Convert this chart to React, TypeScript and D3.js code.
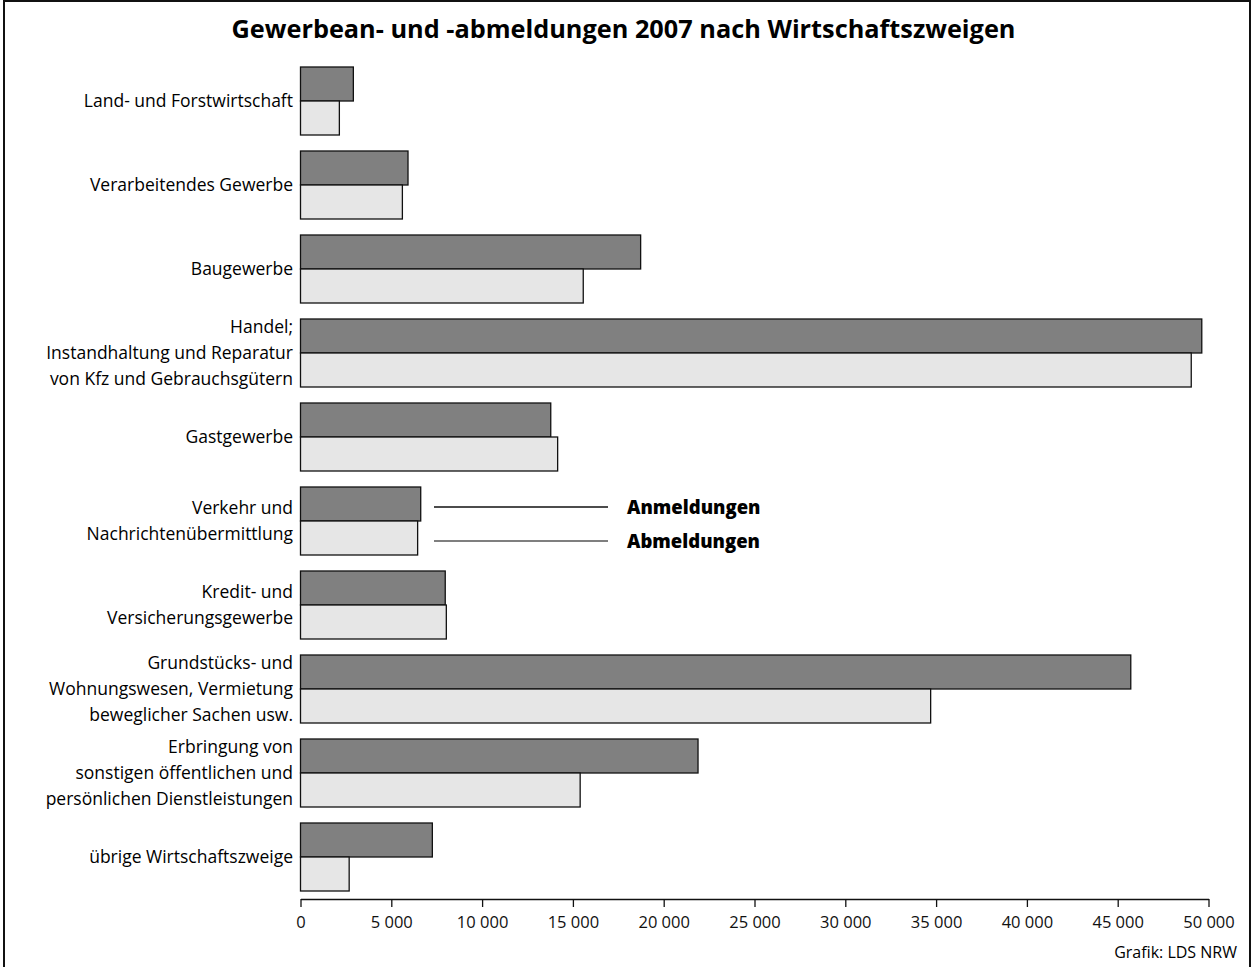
import React, { useRef, useEffect } from 'react';
import { select, scaleLinear, scaleBand, axisBottom, formatLocale } from 'd3';

const dim = {
  width: 1252,
  height: 967,
  left: 300.5,
  right: 1208.5,
  top: 59,
  axisY: 899,
};

const categories = [
  'Land- und Forstwirtschaft',
  'Verarbeitendes Gewerbe',
  'Baugewerbe',
  'Handel;\nInstandhaltung und Reparatur\nvon Kfz und Gebrauchsgütern',
  'Gastgewerbe',
  'Verkehr und\nNachrichtenübermittlung',
  'Kredit- und\nVersicherungsgewerbe',
  'Grundstücks- und\nWohnungswesen, Vermietung\nbeweglicher Sachen usw.',
  'Erbringung von\nsonstigen öffentlichen und\npersönlichen Dienstleistungen',
  'übrige Wirtschaftszweige',
];

const anmeldungen = [2910, 5920, 18730, 49630, 13780, 6620, 7970, 45720, 21890, 7260];
const abmeldungen = [2140, 5610, 15570, 49050, 14160, 6450, 8030, 34700, 15400, 2680];

const ticks = [0, 5000, 10000, 15000, 20000, 25000, 30000, 35000, 40000, 45000, 50000];

const FONT = "'Open Sans', sans-serif";

const App = () => {
  const svgRef = useRef(null);

  useEffect(() => {
    const svg = select(svgRef.current);
    svg.selectAll('*').remove();

    const x = scaleLinear().domain([0, 50000]).range([dim.left, dim.right]);
    const y = scaleBand<string>()
      .domain(categories)
      .range([dim.top, dim.top + 840])
      .paddingInner(16 / 84)
      .paddingOuter(8 / 84);
    const bw = y.bandwidth();

    // frame
    svg
      .append('rect')
      .attr('x', 4)
      .attr('y', 1)
      .attr('width', 1246)
      .attr('height', 975)
      .attr('fill', 'white')
      .attr('stroke', '#111')
      .attr('stroke-width', 2);

    svg
      .append('text')
      .attr('x', 623.5)
      .attr('y', 38)
      .attr('text-anchor', 'middle')
      .attr('font-family', FONT)
      .attr('font-weight', 700)
      .attr('font-size', 25.3)
      .text('Gewerbean- und -abmeldungen 2007 nach Wirtschaftszweigen');

    const rows = categories.map((c, i) => ({ c, an: anmeldungen[i], ab: abmeldungen[i] }));

    const bars = svg.append('g');
    bars
      .selectAll('rect.an')
      .data(rows)
      .join('rect')
      .attr('class', 'an')
      .attr('x', x(0))
      .attr('y', (d) => y(d.c)!)
      .attr('width', (d) => x(d.an) - x(0))
      .attr('height', bw / 2)
      .attr('fill', '#808080')
      .attr('stroke', '#111')
      .attr('stroke-width', 1.3);
    bars
      .selectAll('rect.ab')
      .data(rows)
      .join('rect')
      .attr('class', 'ab')
      .attr('x', x(0))
      .attr('y', (d) => y(d.c)! + bw / 2)
      .attr('width', (d) => x(d.ab) - x(0))
      .attr('height', bw / 2)
      .attr('fill', '#e6e6e6')
      .attr('stroke', '#111')
      .attr('stroke-width', 1.3);

    // category labels
    const labels = svg
      .append('g')
      .attr('font-family', FONT)
      .attr('font-size', 17.5)
      .attr('text-anchor', 'end');
    rows.forEach((d) => {
      const lines = d.c.split('\n');
      const cy = y(d.c)! + bw / 2;
      const lh = 26;
      lines.forEach((ln, j) => {
        labels
          .append('text')
          .attr('x', 293)
          .attr('y', cy + (j - (lines.length - 1) / 2) * lh + 6)
          .text(ln);
      });
    });

    // axis
    const fmt = formatLocale({ decimal: ',', thousands: ' ', grouping: [3], currency: ['', '€'] }).format(',');
    const axis = svg
      .append('g')
      .attr('transform', `translate(0,${dim.axisY})`)
      .call(axisBottom(x).tickValues(ticks).tickFormat((v) => fmt(+v)).tickSize(8).tickSizeOuter(0));
    axis.select('.domain').attr('stroke', '#111').attr('stroke-width', 1.3);
    axis.selectAll('.tick line').attr('stroke', '#111').attr('stroke-width', 1.3);
    axis
      .selectAll('.tick text')
      .attr('font-family', FONT)
      .attr('font-size', 16.5)
      .attr('fill', '#111')
      .attr('dy', '1.1em');

    // legend
    const legY0 = y(categories[5])! + bw / 4 + 3;
    const legY1 = y(categories[5])! + (3 * bw) / 4 + 3;
    const leg = [
      { t: 'Anmeldungen', y: legY0, c: '#111' },
      { t: 'Abmeldungen', y: legY1, c: '#555' },
    ];
    leg.forEach((l) => {
      svg
        .append('line')
        .attr('x1', 434)
        .attr('x2', 608)
        .attr('y1', l.y)
        .attr('y2', l.y)
        .attr('stroke', l.c)
        .attr('stroke-width', 1.3);
      svg
        .append('text')
        .attr('x', 627)
        .attr('y', l.y + 6.5)
        .attr('font-family', FONT)
        .attr('font-weight', 800)
        .attr('font-size', 18.5)
        .text(l.t);
    });

    svg
      .append('text')
      .attr('x', 1237)
      .attr('y', 958)
      .attr('text-anchor', 'end')
      .attr('font-family', FONT)
      .attr('font-size', 16)
      .text('Grafik: LDS NRW');
  }, []);

  return (
    <svg
      ref={svgRef}
      width={dim.width}
      height={dim.height}
      style={{ position: 'absolute', left: 0, top: 0, background: 'white' }}
    />
  );
};

export default App;
